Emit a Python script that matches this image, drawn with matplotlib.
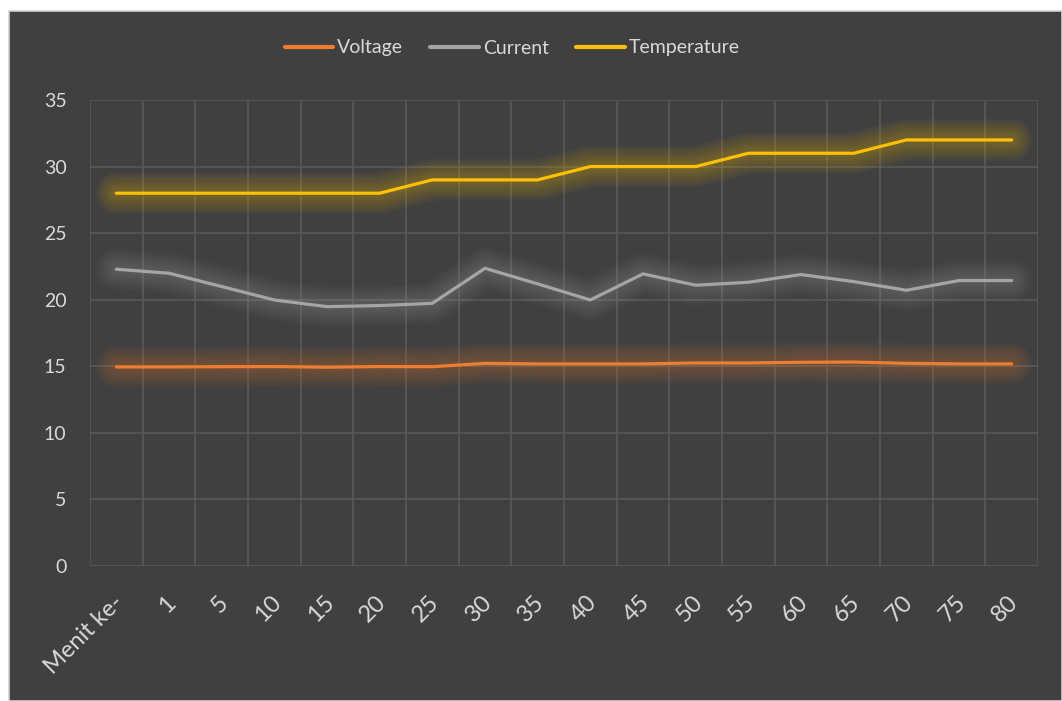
import matplotlib
matplotlib.use("Agg")
import matplotlib.pyplot as plt
import matplotlib.patches as patches
import matplotlib.transforms as mtransforms
import numpy as np

# data
categories = ["Menit ke-", "1", "5", "10", "15", "20", "25", "30", "35", "40",
              "45", "50", "55", "60", "65", "70", "75", "80"]
voltage = [14.95, 14.95, 14.97, 14.98, 14.93, 14.98, 14.97, 15.22, 15.18, 15.18,
           15.18, 15.25, 15.25, 15.30, 15.32, 15.22, 15.18, 15.18]
current = [22.29, 21.99, 20.99, 19.98, 19.48, 19.56, 19.73, 22.36, 21.19, 19.98,
           21.94, 21.09, 21.31, 21.89, 21.36, 20.71, 21.44, 21.44]
temperature = [28, 28, 28, 28, 28, 28, 29, 29, 29, 30, 30, 30, 31, 31, 31, 32, 32, 32]

series = [("Voltage", voltage, "#ED7D31"),
          ("Current", current, "#A5A5A5"),
          ("Temperature", temperature, "#FFC000")]

BG = "#404040"
TXT = "#D9D9D9"
GRID = "#595959"

plt.rcParams["font.family"] = ["Lato", "DejaVu Sans"]

W, H = 1062, 701
fig = plt.figure(figsize=(W / 100, H / 100), dpi=100)
fig.patch.set_facecolor("white")

# dark chart area with thin light frame
frame = patches.Rectangle((9 / W, 0), 1 - 9 / W, 1 - 11 / H, transform=fig.transFigure,
                          facecolor=BG, edgecolor="#D0D0D0", linewidth=1.2, zorder=-10)
fig.patches.append(frame)

ax = fig.add_axes([90 / W, (H - 566) / H, (1038 - 90) / W, (566 - 100) / H])
ax.set_facecolor(BG)
for s in ax.spines.values():
    s.set_visible(False)

x = np.arange(len(categories))

# soft glow under each line
for name, vals, col in series:
    for lw in np.linspace(30, 6, 8):
        ax.plot(x, vals, color=col, lw=lw, alpha=0.04, solid_capstyle="round",
                solid_joinstyle="round", zorder=2)

for name, vals, col in series:
    ax.plot(x, vals, color=col, lw=2.3, solid_capstyle="round",
            solid_joinstyle="round", label=name, zorder=3)

ax.set_xlim(-0.5, len(categories) - 0.5)
ax.set_ylim(0, 35)
ax.set_yticks(np.arange(0, 36, 5))
ax.set_xticks(x)
ax.set_xticklabels(categories)

# vertical grid at category boundaries, horizontal at major ticks
for b in np.arange(-0.5, len(categories), 1):
    ax.axvline(b, color=GRID, lw=1.2, zorder=1)
for v in np.arange(0, 36, 5):
    ax.axhline(v, color=GRID, lw=1.2, zorder=1)

ax.tick_params(axis="both", length=0, colors=TXT)
ax.tick_params(axis="y", pad=17)
offset = mtransforms.ScaledTranslation(-4 / 100, -21 / 100, fig.dpi_scale_trans)
for lab in ax.get_xticklabels():
    lab.set_rotation(45)
    lab.set_ha("right")
    lab.set_va("top")
    lab.set_rotation_mode("anchor")
    lab.set_transform(lab.get_transform() + offset)
    lab.set_fontsize(17)
for lab in ax.get_yticklabels():
    lab.set_color(TXT)
    lab.set_fontsize(14)

leg = fig.legend(loc="center", bbox_to_anchor=(512 / W, 1 - 48 / H), ncol=3, frameon=False,
                 fontsize=14, handlelength=2.5, handletextpad=0.2, columnspacing=1.4)
for t in leg.get_texts():
    t.set_color(TXT)
for h in leg.get_lines():
    h.set_linewidth(3)

fig.savefig("out.png", dpi=100, facecolor=fig.get_facecolor())
